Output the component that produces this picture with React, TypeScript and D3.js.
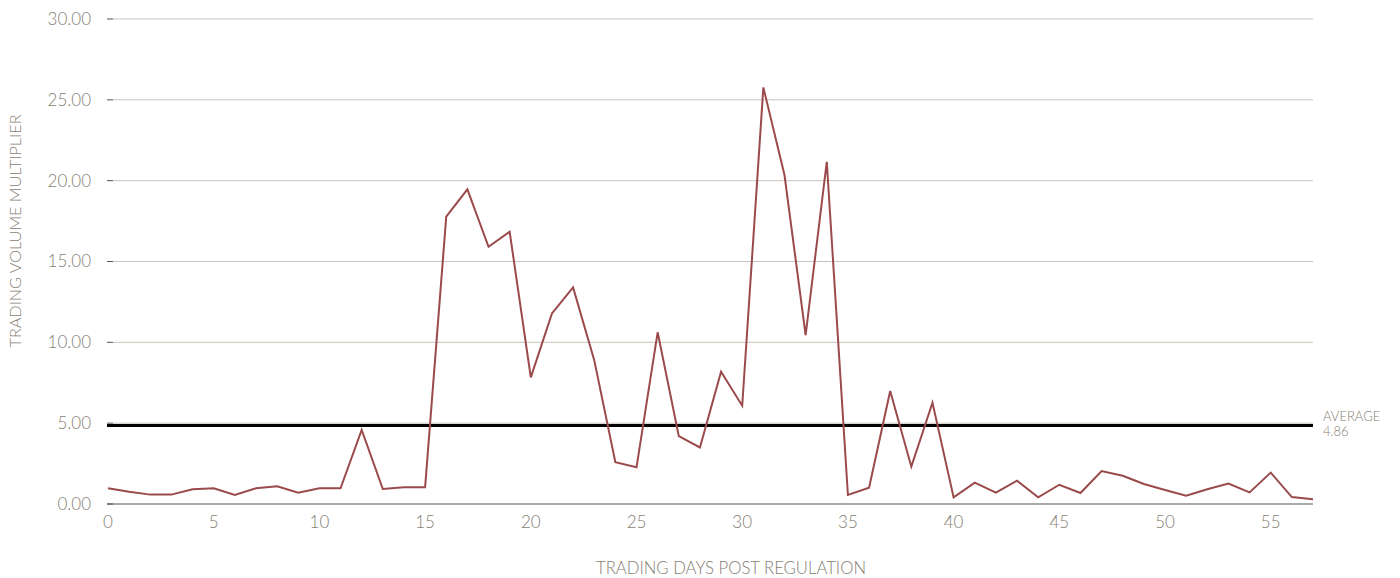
import React from "react";
import * as d3 from "d3";

const days: number[] = Array.from({ length: 58 }, (_, i) => i);
const multiplier: number[] = [
  0.97, 0.76, 0.58, 0.58, 0.91, 0.97, 0.56, 0.97, 1.09, 0.7,
  0.97, 0.97, 4.58, 0.93, 1.03, 1.03, 17.77, 19.46, 15.91, 16.84,
  7.83, 11.79, 13.4, 8.9, 2.58, 2.27, 10.62, 4.2, 3.5, 8.18,
  6.08, 25.77, 20.35, 10.45, 21.17, 0.56, 1.01, 6.99, 2.31, 6.27,
  0.41, 1.32, 0.7, 1.44, 0.41, 1.19, 0.68, 2.04, 1.75, 1.24,
  0.87, 0.51, 0.91, 1.26, 0.72, 1.94, 0.43, 0.29,
];
const average = 4.86;
const yTicks: number[] = [0, 5, 10, 15, 20, 25, 30];
const xTicks: number[] = [0, 5, 10, 15, 20, 25, 30, 35, 40, 45, 50, 55];

const W = 1400;
const H = 578;
const left = 108;
const right = 1313;
const top = 19;
const bottom = 504;

const FONT = "Lato, 'Open Sans', sans-serif";
const TEXT = "#857e73";

export default function App() {
  const x = d3.scaleLinear().domain([0, 57]).range([left, right]);
  const y = d3.scaleLinear().domain([0, 30]).range([bottom, top]);
  const line = d3
    .line<number>()
    .x((_, i) => x(days[i]))
    .y((d) => y(d));

  return (
    <svg
      width={W}
      height={H}
      style={{ position: "absolute", left: 0, top: 0, background: "#fff" }}
    >
      {yTicks.map((t) => (
        <g key={t}>
          {t !== 0 && (
            <line x1={113} x2={right} y1={y(t)} y2={y(t)} stroke="#c9c4b9" strokeWidth={1} />
          )}
          <line x1={107} x2={113} y1={y(t)} y2={y(t)} stroke="#555" strokeWidth={1} />
          <text
            x={91}
            y={y(t)}
            dy="0.35em"
            textAnchor="end"
            fontFamily={FONT}
            fontWeight={300}
            fontSize={17}
            fill={TEXT}
          >
            {t.toFixed(2)}
          </text>
        </g>
      ))}
      <line x1={107} x2={right} y1={y(0)} y2={y(0)} stroke="#555" strokeWidth={1} />
      {xTicks.map((t) => (
        <text
          key={t}
          x={x(t)}
          y={528}
          textAnchor="middle"
          fontFamily={FONT}
          fontWeight={300}
          fontSize={17}
          fill={TEXT}
        >
          {t}
        </text>
      ))}
      <line
        x1={107}
        x2={right}
        y1={y(average)}
        y2={y(average)}
        stroke="#000"
        strokeWidth={3}
      />
      <path d={line(multiplier) || ""} fill="none" stroke="#9b4a4b" strokeWidth={2} strokeLinejoin="miter" />
      <text x={1323} y={421} fontFamily={FONT} fontWeight={300} fontSize={13} fill={TEXT}>
        AVERAGE
      </text>
      <text x={1323} y={436} fontFamily={FONT} fontWeight={300} fontSize={13} fill={TEXT}>
        {average.toFixed(2)}
      </text>
      <text
        transform={`translate(21,231) rotate(-90)`}
        textAnchor="middle"
        fontFamily={FONT}
        fontWeight={300}
        fontSize={16.2}
        fill={TEXT}
      >
        TRADING VOLUME MULTIPLIER
      </text>
      <text
        x={731}
        y={574}
        textAnchor="middle"
        fontFamily={FONT}
        fontWeight={300}
        fontSize={16.7}
        fill={TEXT}
      >
        TRADING DAYS POST REGULATION
      </text>
    </svg>
  );
}
